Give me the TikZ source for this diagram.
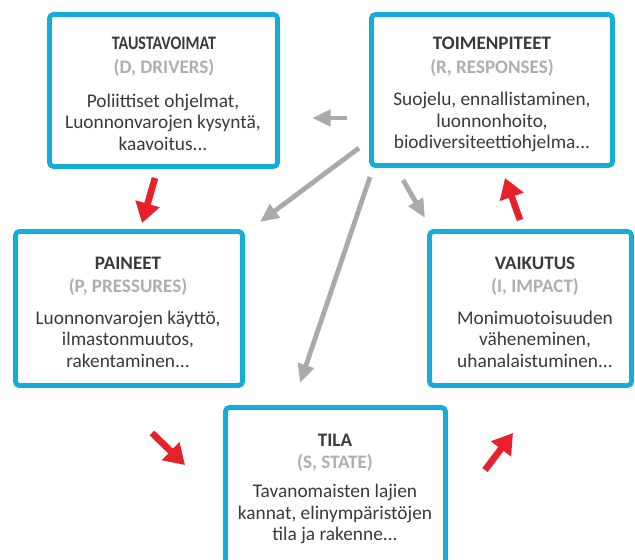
\documentclass[tikz,border=0pt]{standalone}
\usepackage{fontspec}
\setmainfont{Carlito}
\usetikzlibrary{arrows.meta}
\definecolor{boxblue}{RGB}{20,172,216}
\definecolor{txtdark}{RGB}{58,58,58}
\definecolor{txtgray}{RGB}{175,175,175}
\definecolor{arrgray}{RGB}{170,170,170}
\definecolor{arrred}{RGB}{232,32,42}
\tikzset{
  box/.style={draw=boxblue, line width=3.6pt, rounded corners=3pt, fill=white, inner sep=0pt},
  ttl/.style={font=\bfseries\fontsize{14.3pt}{16pt}\selectfont, text=txtdark, inner sep=0pt},
  sub/.style={font=\bfseries\fontsize{14.3pt}{16pt}\selectfont, text=txtgray, inner sep=0pt},
  body/.style={font=\fontsize{14.5pt}{16.2pt}\selectfont, text=txtdark, align=center, inner sep=0pt},
  garrow/.style={draw=arrgray, line width=3.6pt, -{Triangle[length=14pt,width=12pt]}},
  rarrow/.style={draw=arrred, line width=5pt, -{Triangle[length=15pt,width=18pt]}}
}
\begin{document}
\begin{tikzpicture}[x=0.75pt,y=-0.75pt]
\clip (0,0) rectangle (635,560);
\fill[white] (0,0) rectangle (635,560);
% boxes
\node[box, minimum width=171pt, minimum height=114pt] (D) at (163.5,90.5) {};
\node[box, minimum width=180.75pt, minimum height=113.25pt] (R) at (492,90) {};
\node[box, minimum width=170.25pt, minimum height=115.5pt] (P) at (129,308.5) {};
\node[box, minimum width=151.5pt, minimum height=115.5pt] (I) at (530.5,308.5) {};
\node[box, minimum width=165pt, minimum height=129.4pt] (S) at (335.5,493.75) {};
% D texts
\node[ttl] (Dt) at (164,43) {\scalebox{0.84}[1]{TAUSTAVOIMAT}};
\node[sub] (Ds) at (164,68) {(D, DRIVERS)};
\node[body] (Db) at (163,122) {Poliittiset ohjelmat,\\Luonnonvarojen kysyntä,\\kaavoitus...};
% R texts
\node[ttl] (Rt) at (492,43) {TOIMENPITEET};
\node[sub] (Rs) at (492,68) {(R, RESPONSES)};
\node[body] (Rb) at (492,122) {Suojelu, ennallistaminen,\\luonnonhoito,\\biodiversiteettiohjelma...};
% P texts
\node[ttl] (Pt) at (128,263) {PAINEET};
\node[sub] (Ps) at (128,287) {(P, PRESSURES)};
\node[body] (Pb) at (128,339) {Luonnonvarojen käyttö,\\ilmastonmuutos,\\rakentaminen...};
% I texts
\node[ttl] (It) at (535,263) {VAIKUTUS};
\node[sub] (Is) at (535,287) {(I, IMPACT)};
\node[body] (Ib) at (535,339) {Monimuotoisuuden\\väheneminen,\\uhanalaistuminen...};
% S texts
\node[ttl] (St) at (335,440) {TILA};
\node[sub] (Ss) at (335,463) {(S, STATE)};
\node[body] (Sb) at (335,514) {Tavanomaisten lajien\\kannat, elinympäristöjen\\tila ja rakenne...};
% arrow end points
\coordinate (g1a) at (347,118); \coordinate (g1b) at (312,118);
\coordinate (g2a) at (359,148); \coordinate (g2b) at (260,222);
\coordinate (g3a) at (370,177); \coordinate (g3b) at (300,383);
\coordinate (g4a) at (403,180); \coordinate (g4b) at (425,218);
\coordinate (r1a) at (155,178); \coordinate (r1b) at (142,223);
\coordinate (r2a) at (152,433); \coordinate (r2b) at (185,465);
\coordinate (r3a) at (520,220); \coordinate (r3b) at (505,178);
\coordinate (r4a) at (485,470); \coordinate (r4b) at (513,433);
\draw[garrow] (g1a) -- (g1b);
\draw[garrow] (g2a) -- (g2b);
\draw[garrow] (g3a) -- (g3b);
\draw[garrow] (g4a) -- (g4b);
\draw[rarrow] (r1a) -- (r1b);
\draw[rarrow] (r2a) -- (r2b);
\draw[rarrow] (r3a) -- (r3b);
\draw[rarrow] (r4a) -- (r4b);
\end{tikzpicture}
\end{document}
